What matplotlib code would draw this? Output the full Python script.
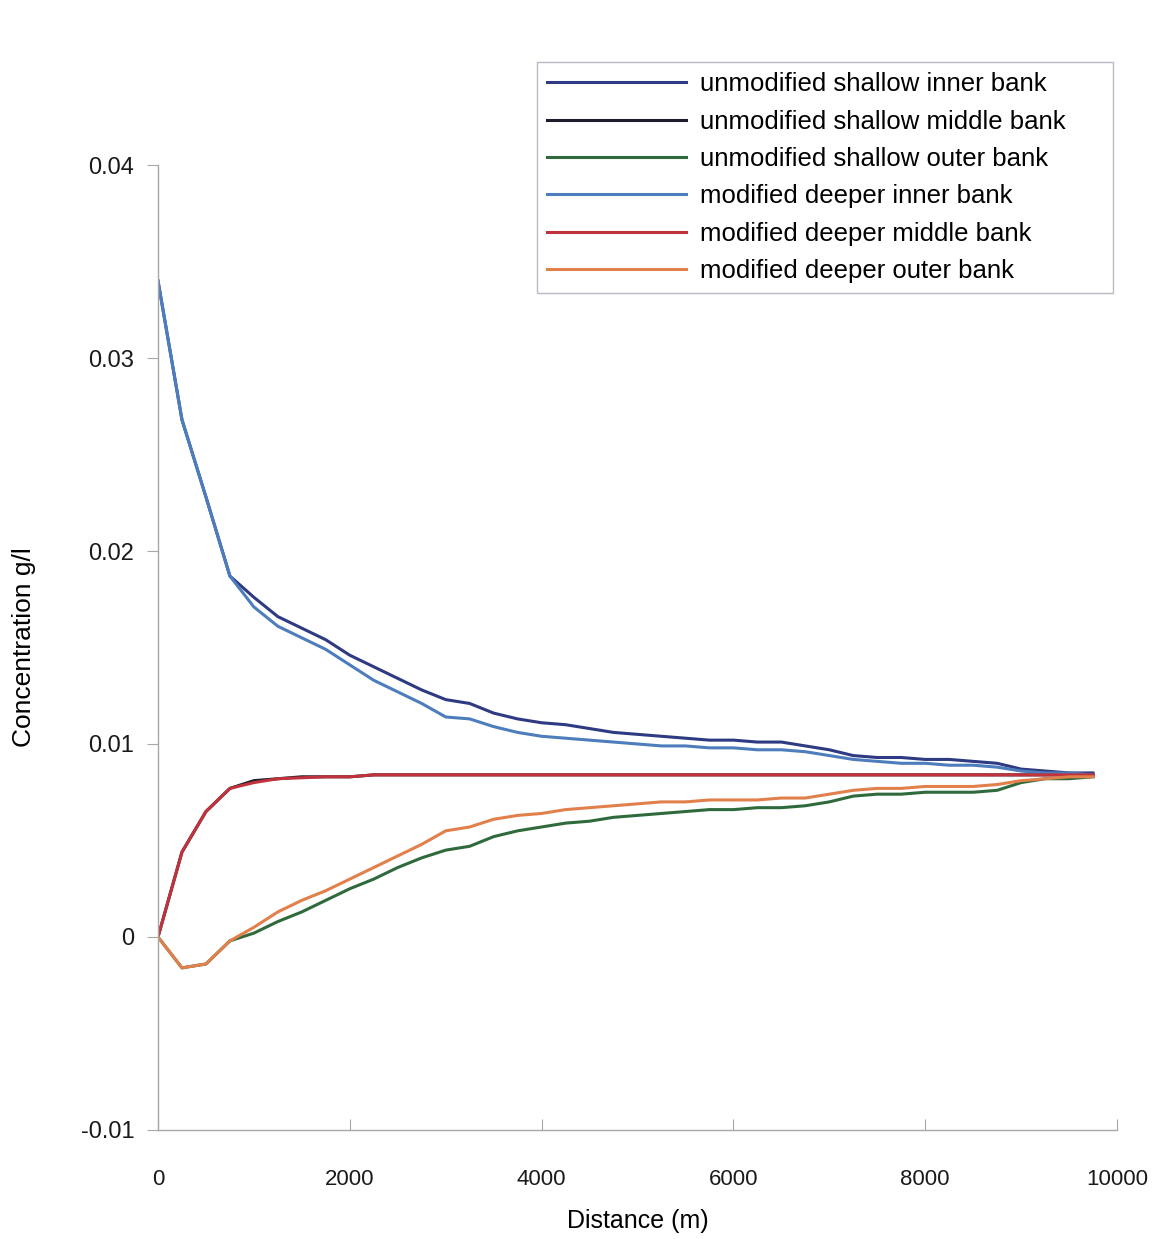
import numpy as np
import matplotlib
matplotlib.use("Agg")
import matplotlib.pyplot as plt

# distance along the channel (m)
distance = np.arange(0, 10000, 250)

unmod_inner = [0.0340, 0.0268, 0.0228, 0.0187, 0.0176, 0.0166, 0.0160, 0.0154, 0.0146, 0.0140,
               0.0134, 0.0128, 0.0123, 0.0121, 0.0116, 0.0113, 0.0111, 0.0110, 0.0108, 0.0106,
               0.0105, 0.0104, 0.0103, 0.0102, 0.0102, 0.0101, 0.0101, 0.0099, 0.0097, 0.0094,
               0.0093, 0.0093, 0.0092, 0.0092, 0.0091, 0.0090, 0.0087, 0.0086, 0.0085, 0.0085]
unmod_middle = [0.0, 0.0044, 0.0065, 0.0077, 0.0081, 0.0082, 0.0083, 0.0083, 0.0083, 0.0084,
                0.0084, 0.0084, 0.0084, 0.0084, 0.0084, 0.0084, 0.0084, 0.0084, 0.0084, 0.0084,
                0.0084, 0.0084, 0.0084, 0.0084, 0.0084, 0.0084, 0.0084, 0.0084, 0.0084, 0.0084,
                0.0084, 0.0084, 0.0084, 0.0084, 0.0084, 0.0084, 0.0084, 0.0084, 0.0084, 0.0084]
unmod_outer = [0.0, -0.0016, -0.0014, -0.0002, 0.0002, 0.0008, 0.0013, 0.0019, 0.0025, 0.0030,
               0.0036, 0.0041, 0.0045, 0.0047, 0.0052, 0.0055, 0.0057, 0.0059, 0.0060, 0.0062,
               0.0063, 0.0064, 0.0065, 0.0066, 0.0066, 0.0067, 0.0067, 0.0068, 0.0070, 0.0073,
               0.0074, 0.0074, 0.0075, 0.0075, 0.0075, 0.0076, 0.0080, 0.0082, 0.0082, 0.0083]
mod_inner = [0.0340, 0.0268, 0.0228, 0.0187, 0.0171, 0.0161, 0.0155, 0.0149, 0.0141, 0.0133,
             0.0127, 0.0121, 0.0114, 0.0113, 0.0109, 0.0106, 0.0104, 0.0103, 0.0102, 0.0101,
             0.0100, 0.0099, 0.0099, 0.0098, 0.0098, 0.0097, 0.0097, 0.0096, 0.0094, 0.0092,
             0.0091, 0.0090, 0.0090, 0.0089, 0.0089, 0.0088, 0.0086, 0.0085, 0.0085, 0.0084]
mod_middle = [0.0, 0.0044, 0.0065, 0.0077, 0.0080, 0.0082, 0.00825, 0.0083, 0.0083, 0.0084,
              0.0084, 0.0084, 0.0084, 0.0084, 0.0084, 0.0084, 0.0084, 0.0084, 0.0084, 0.0084,
              0.0084, 0.0084, 0.0084, 0.0084, 0.0084, 0.0084, 0.0084, 0.0084, 0.0084, 0.0084,
              0.0084, 0.0084, 0.0084, 0.0084, 0.0084, 0.0084, 0.0084, 0.0084, 0.0084, 0.0084]
mod_outer = [0.0, -0.0016, -0.0014, -0.0002, 0.0005, 0.0013, 0.0019, 0.0024, 0.0030, 0.0036,
             0.0042, 0.0048, 0.0055, 0.0057, 0.0061, 0.0063, 0.0064, 0.0066, 0.0067, 0.0068,
             0.0069, 0.0070, 0.0070, 0.0071, 0.0071, 0.0071, 0.0072, 0.0072, 0.0074, 0.0076,
             0.0077, 0.0077, 0.0078, 0.0078, 0.0078, 0.0079, 0.0081, 0.0082, 0.0083, 0.0083]

labels = ["unmodified shallow inner bank", "unmodified shallow middle bank",
          "unmodified shallow outer bank", "modified deeper inner bank",
          "modified deeper middle bank", "modified deeper outer bank"]
series = [unmod_inner, unmod_middle, unmod_outer, mod_inner, mod_middle, mod_outer]
colors = ["#2e3a82", "#1c1c2c", "#2f6a3c", "#4d7dbc", "#c0323c", "#e2804c"]

plt.rcParams['font.family'] = ['Liberation Sans', 'DejaVu Sans']

fig = plt.figure(figsize=(11.66, 12.39), dpi=100)
ax = fig.add_axes([0.1355, 0.088, 0.8225, 0.7788])

lines = []
for vals, lab, col in zip(series, labels, colors):
    ln, = ax.plot(distance, vals, color=col, lw=2.2, label=lab)
    lines.append(ln)

ax.set_xlim(0, 10000)
ax.set_ylim(-0.01, 0.04)
ax.set_xticks([0, 2000, 4000, 6000, 8000, 10000])
ax.set_yticks([-0.01, 0, 0.01, 0.02, 0.03, 0.04])
ax.set_yticklabels(["-0.01", "0", "0.01", "0.02", "0.03", "0.04"])

for s in ["top", "right"]:
    ax.spines[s].set_visible(False)
for s in ["left", "bottom"]:
    ax.spines[s].set_color("#a8a8a8")
    ax.spines[s].set_linewidth(1.0)

ax.tick_params(axis="y", direction="out", length=8, color="#a8a8a8",
               labelsize=17, pad=9, labelcolor="#1a1a1a")
ax.tick_params(axis="x", direction="in", length=8, color="#a8a8a8",
               labelsize=16, pad=28, labelcolor="#1a1a1a")

ax.set_xlabel("Distance (m)", fontsize=18, labelpad=14)
ax.set_ylabel("Concentration g/l", fontsize=19, labelpad=32)

leg = fig.legend(handles=lines, loc="upper left",
                 bbox_to_anchor=(0.4605, 0.758, 0.494, 0.192), mode="expand",
                 fontsize=18.5, handlelength=5.4, handletextpad=0.55,
                 labelspacing=0.52, borderpad=0.4, borderaxespad=0.0,
                 fancybox=False, frameon=True)
leg.get_frame().set_edgecolor("#a8a8ba")
leg.get_frame().set_linewidth(1.0)

fig.savefig("out.png", dpi=100)
